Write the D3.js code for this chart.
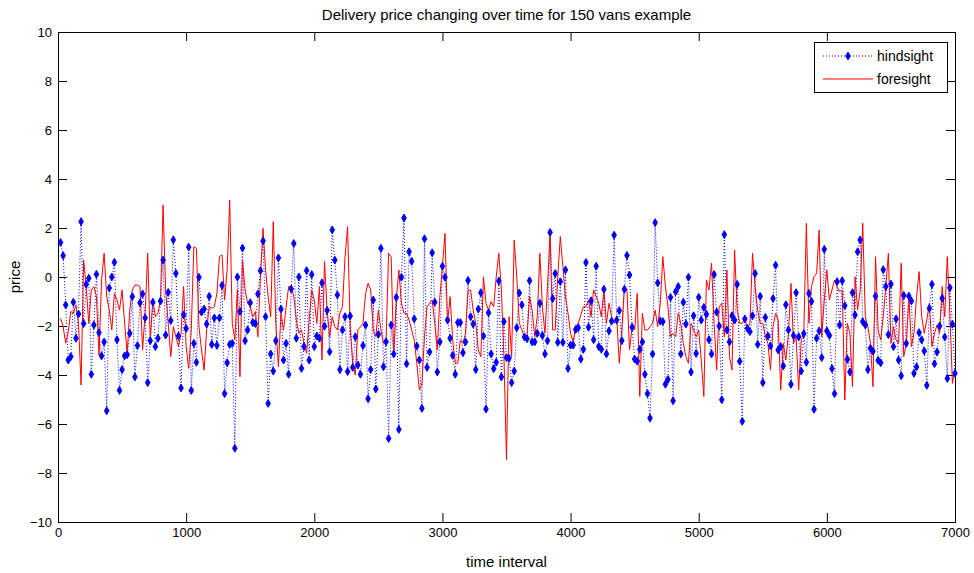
<!DOCTYPE html>
<html>
<head>
  <meta charset="utf-8">
  <script src="https://cdn.jsdelivr.net/npm/d3@7/dist/d3.min.js"></script>
  <style>
    body { margin: 0; background: #fff; }
    text { font-family: "Liberation Sans", Arial, sans-serif; }
  </style>
</head>
<body>
  <script>

  var width = 974
  var height = 573
  var margin = {top: 32, right: 19, bottom: 51, left: 58};

  var titleText = "Delivery price changing over time for 150 vans example";
  var xLabel = "time interval";
  var yLabel = "price";
  var seriesNames = ["hindsight", "foresight"];

  // sample spacing of the time axis
  var timeStep = 20;
  var xTicks = [0, 1000, 2000, 3000, 4000, 5000, 6000, 7000];
  var yTicks = [-10, -8, -6, -4, -2, 0, 2, 4, 6, 8, 10];

  var hindsight = [
    1.41, 0.87, -1.14, -3.39, -3.25, -1.03, -2.5, -1.51, 2.26, -1.9, -0.3, -0.05, -3.97, -1.96, 0.11, -2.27, -3.22, -2.65, -5.46, -0.45,
    0, 0.6, -2.56, -4.63, -3.78, -3.22, -3.17, -2.3, -0.8, -4.08, -2.8, -1.05, -0.69, -1.67, -4.31,
    -2.6, -1.03, -2.84, -2.5, -0.98, 0.69, -2.37, -0.63, -1.78, 1.52, 0.15, -2.41, -4.53, -1.54, -2.1, 1.22, -4.63, -2.71, -3.48, -0.01,
    -1.43, -1.31, -1.92, -0.79, -2.75, -1.67, -2.79, -1.67, -0.34, -4.76, -3.5, -2.75, -2.71, -6.99, 0,
    -1.41, 1.18, -2.6, -2.16, -1.05, -1.86, -1.9, -0.69, 0.26, 1.47, -1.62, -5.16, -3.14, -3.84, -2.6, 0.78, -1.31, -3.39, -2.71, -3.97,
    -0.49, 1.37, -2.5, 0, -3.73, -2.84, 0.26, -3.39, 0.1, -2.84, -2.41, -2.5, -0.24, -2.01, -1.36, -3.05,
    1.92, 0.69, -0.73, -3.78, -2.16, -1.62, -3.86, -1.59, -3.69, -2.44, -3.59, -3.97, -2.8, -1.96, -4.97, -3.78, -0.94, -4.57, -2.34, 1.17,
    -3.66, -2.64, -6.59, -1.96, -3.14, -0.83, -6.22, -0.01, 2.41, -3.54, 1.03, 0.64, -1.71, -2.82, -3.39,
    -5.36, 1.56, -3.69, -3.06, 0.99, -1.03, -3.88, -2.65, 0.44, -0.01, -1.76, -2.5, -3.2, -3.97, -1.86, -1.86, -3.09, -2.65, -0.14, -1.62,
    -1.92, -3.78, -1.31, -0.64, -2.41, -5.39, -1.46, -3.14, -3.74, -3.48, -0.16, -4.08, -1.82, -3.29, -3.32,
    -4.31, -3.84, -2.07, -0.65, -1.14, -2.45, -2.52, -0.15, -2.65, -2.65, -2.3, -1.07, -2.39, -3.14, -2.6, 1.82, -0.88, 0.14, -2.67, -0.19,
    -2.67, 0.29, -3.73, -2.78, -2.78, -2.14, -2.07, -3.35, -2.95, 0.59, -2.05, -0.97, -2.56, 0.44, -2.84,
    -2.95, -0.5, -3.14, -2.2, -1.8, 1.71, -1.76, -1.37, -2.6, -0.5, 0.88, 0.08, -2.05, -3.35, -3.44, -2.95, -2.65, -3.97, -4.76, -5.76,
    -3.14, 2.22, -0.24, -1.8, -1.82, -4.38, -4.18, -0.83, -5.05, -0.6, -0.39, -3.14, -1.03, -1.92, -0.01, -3.88,
    -1.58, -3.12, -0.83, -1.76, -1.24, -1.52, -2.56, -3.14, 0.1, -1.43, -2.0, -5.01, 1.73, -2.16, -2.65, -1.58, -1.76, -0.3, -3.44, -5.89,
    -1.71, -2.1, -2.23, -1.58, 0.14, -2.75, -0.79, -4.31, -1.65, -2.41, -2.82, -0.88, 0.48, -2.98,
    -2.84, -3.63, -1.13, -2.16, -4.38, -2.39, -0.64, -2.44, -3.84, -2.31, -3.48, -0.67, -1.0, -5.4, -2.5, -2.2, -3.29, 1.13, -2.2, -2.39,
    -3.74, -4.76, -0.19, -1.96, -0.15, -1.17, -3.36, -3.88, -0.64, -1.55, 1.03, 1.51, -1.82, -1.96, -3.78, -2.91,
    -3.03, -0.78, -3.4, -3.5, 0.3, -0.39, -2.35, -0.29, -2.84, -1.71, -3.39, -4.03, -0.75, -2.71, -0.78, -0.98, -3.93, -3.67, -2.27, -2.56,
    -3.02, -4.42, -1.28, -0.3, -3.54, -3.06, -2.0, -0.87, -2.45, -4.14, -0.44, -1.93, -3.93
  ];

  var foresight = [
    -1.69, -2.03, -2.7, -2.23, -1.41, -1.48, -1.14, -1.89, -4.41, 0.69, -0.39, -1.89, -0.53, -0.39, -0.8, -3.2, -0.12, 0.97, -0.8, -1.35,
    -2.16, -0.67, -0.94, -1.35, -0.53, -1.89, -3.12, -1.35, -0.53, -0.33, -0.33, -0.39, -2.98, -1.48, 0.97,
    -2.57, -0.94, -1.62, -1.48, -0.94, 2.94, -0.53, -1.89, -3.25, -2.03, -2.44, -2.84, -2.3, -0.39, -2.84, -3.73, -2.16, 1.24, 1.17, -2.03,
    -2.98, -3.8, -2.16, -1.21, -1.28, -1.21, -0.67, 0.83, 0.9, -0.94, 0.29, 3.14, -1.89, -2.57, -0.53,
    -4.07, 0.69, -0.53, -1.07, -1.21, -1.62, -1.41, -2.44, 0.01, 1.99, 0.29, -0.8, -1.62, 2.26, -1.89, -3.66, -1.48, -2.16, -1.21, -0.39,
    -0.39, -0.8, -1.76, -2.3, -2.16, -2.71, -3.12, -1.76, -0.53, -0.94, -1.89, -0.39, -3.39, 0.63, -1.35, -2.44,
    -1.62, -2.03, -2.16, -1.48, -1.21, 0.83, 2.05, -2.03, -3.52, -4.0, -2.16, -2.03, -1.89, -0.67, -0.26, -0.53, -2.16, -2.44, -1.35, -2.16,
    -2.71, -2.64, 0.97, 0.83, -3.25, -0.94, 0.29, -1.07, -1.48, -1.48, -1.76, -2.16, -2.57, -3.52, -4.61,
    -4.34, -2.44, -1.21, -1.07, -0.94, -1.89, -2.98, -0.8, 0.42, 1.78, -1.89, -0.8, -2.57, -3.52, -3.52, -2.57, -2.71, -2.3, -0.53, -0.53,
    -1.35, -1.89, -2.98, -3.25, 0.01, -1.07, -1.35, -1.01, -1.21, 0.01, 0.97, -0.53, -3.25, -7.47, -1.62,
    -3.25, 1.51, 0.01, -1.89, -2.16, -2.44, -2.44, -0.8, -1.35, -2.44, -1.62, 0.97, -1.21, -2.3, -0.39, 1.78, -2.16, -2.16, 0.01, 1.65,
    0.42, -0.8, -1.48, -2.3, -2.64, -2.03, -1.89, -1.55, -1.21, -1.21, -0.94, -1.62, -0.53, -0.8, -1.07,
    -1.62, -0.53, -1.89, -1.07, -1.62, -1.89, -1.62, -3.52, -2.16, -0.39, -0.53, -2.98, -2.03, -2.16, -0.67, -4.88, -1.48, -2.16, -2.16, -2.03,
    -1.89, -1.35, -2.03, -1.07, 0.83, -0.39, -1.21, -2.44, -2.3, -2.44, -1.48, -1.89, -2.71, -3.25, -3.52, -1.89,
    -2.16, -2.44, -2.16, -3.39, -4.88, -0.12, -0.53, 0.56, -1.89, -3.8, -1.21, -1.07, -2.44, 0.29, -3.25, -3.8, 1.1, -1.35, -1.89, -1.89,
    -1.69, -2.1, -1.89, 0.97, -0.39, -1.35, -1.89, -1.89, -2.44, -2.71, -3.8, -2.03, -1.48, -1.76,
    -4.61, -2.71, -3.39, -2.3, -0.26, -2.71, -2.44, -4.61, -2.57, -2.3, 2.19, -1.89, -0.39, 0.01, 0.15, 1.92, -2.44, -0.94, 0.29, -0.94,
    -0.53, -0.12, -0.39, -0.6, -0.53, -5.02, -1.89, -2.3, -4.48, 0.01, -1.35, -0.53, 2.19, -1.62, -2.03, -2.71,
    -4.48, 0.83, -2.16, -2.57, -1.62, -0.39, 0.97, -2.71, -2.03, -2.57, -2.71, 0.56, -3.25, -2.71, -0.8, -2.84, -2.3, -0.8, 0.22, -1.62,
    -2.3, -1.76, -1.07, -2.84, -2.3, -1.96, -2.3, -0.39, -1.62, 0.83, -1.48, -4.34, -3.8
  ];

  var x = d3.scaleLinear().domain([0, 7000]).range([margin.left, width - margin.right]);
  var y = d3.scaleLinear().domain([-10, 10]).range([height - margin.bottom, margin.top]);

  var svg = d3.select('body').append("svg")
    .attr("width", width)
    .attr("height", height);

  var tick = 9;

  // axes: labels on bottom/left, bare ticks on top/right (box on)
  svg.append("g")
    .attr("transform", "translate(0," + (height - margin.bottom) + ")")
    .call(d3.axisBottom(x).tickValues(xTicks).tickSizeInner(-tick).tickSizeOuter(0).tickPadding(6).tickFormat(d3.format("d")))
  svg.append("g")
    .attr("transform", "translate(0," + margin.top + ")")
    .call(d3.axisTop(x).tickValues(xTicks).tickSizeInner(-tick).tickSizeOuter(0).tickFormat(""))
  svg.append("g")
    .attr("transform", "translate(" + margin.left + ",0)")
    .call(d3.axisLeft(y).tickValues(yTicks).tickSizeInner(-tick).tickSizeOuter(0).tickPadding(6).tickFormat(d3.format("d")))
  svg.append("g")
    .attr("transform", "translate(" + (width - margin.right) + ",0)")
    .call(d3.axisRight(y).tickValues(yTicks).tickSizeInner(-tick).tickSizeOuter(0).tickFormat(""))

  svg.selectAll(".domain").attr("stroke", "#000");
  svg.selectAll(".tick line").attr("stroke", "#000");
  svg.selectAll(".tick text").attr("font-size", 13).attr("fill", "#000")
    .attr("font-family", "Liberation Sans, Arial, sans-serif");

  svg.append("rect")
    .attr("x", margin.left + 0.5).attr("y", margin.top + 0.5)
    .attr("width", width - margin.left - margin.right)
    .attr("height", height - margin.top - margin.bottom)
    .attr("fill", "none").attr("stroke", "#000");

  var hData = hindsight.map(function(v, i) { return {t: (i + 1) * timeStep, v: v}; });
  var fData = foresight.map(function(v, i) { return {t: (i + 1) * timeStep, v: v}; });

  var line = d3.line()
    .x(function(d) { return x(d.t); })
    .y(function(d) { return y(d.v); });

  svg.append("path")
    .datum(hData)
    .attr("d", line)
    .attr("fill", "none")
    .attr("stroke", "#0000ff")
    .attr("stroke-width", 1)
    .attr("stroke-dasharray", "1,2");

  svg.append("path")
    .datum(fData)
    .attr("d", line)
    .attr("fill", "none")
    .attr("stroke", "#ff0000")
    .attr("stroke-width", 1);

  var marker = d3.symbol().type(d3.symbolDiamond).size(18);

  svg.selectAll('.pt')
    .data(hData).enter()
    .append("path")
    .attr("class", "pt")
    .attr("d", marker)
    .attr("transform", function(d) { return "translate(" + x(d.t) + "," + y(d.v) + ")"; })
    .attr("fill", "#0000ff")
    .attr("stroke", "#0000ff")
    .attr("stroke-width", 1);

  // title and axis labels
  svg.append("text")
    .attr("x", (margin.left + width - margin.right) / 2)
    .attr("y", 20)
    .attr("text-anchor", "middle")
    .attr("font-size", 15)
    .text(titleText);

  svg.append("text")
    .attr("x", (margin.left + width - margin.right) / 2)
    .attr("y", 567)
    .attr("text-anchor", "middle")
    .attr("font-size", 15)
    .text(xLabel);

  svg.append("text")
    .attr("transform", "translate(20," + ((margin.top + height - margin.bottom) / 2) + ") rotate(-90)")
    .attr("text-anchor", "middle")
    .attr("font-size", 15)
    .text(yLabel);

  // legend
  var lg = svg.append("g").attr("transform", "translate(814,42)");
  lg.append("rect")
    .attr("x", 0.5).attr("y", 0.5)
    .attr("width", 133).attr("height", 50)
    .attr("fill", "#fff").attr("stroke", "#000");

  lg.append("line")
    .attr("x1", 9).attr("x2", 59).attr("y1", 14).attr("y2", 14)
    .attr("stroke", "#0000ff").attr("stroke-dasharray", "1,2");
  lg.append("path")
    .attr("d", marker)
    .attr("transform", "translate(34,14)")
    .attr("fill", "#0000ff").attr("stroke", "#0000ff");
  lg.append("line")
    .attr("x1", 9).attr("x2", 59).attr("y1", 37).attr("y2", 37)
    .attr("stroke", "#ff0000");

  lg.selectAll(".lbl")
    .data(seriesNames).enter()
    .append("text")
    .attr("class", "lbl")
    .attr("x", 63)
    .attr("y", function(d, i) { return 19 + i * 23; })
    .attr("font-size", 14)
    .text(function(d) { return d; });

  </script>

</body>
</html>
